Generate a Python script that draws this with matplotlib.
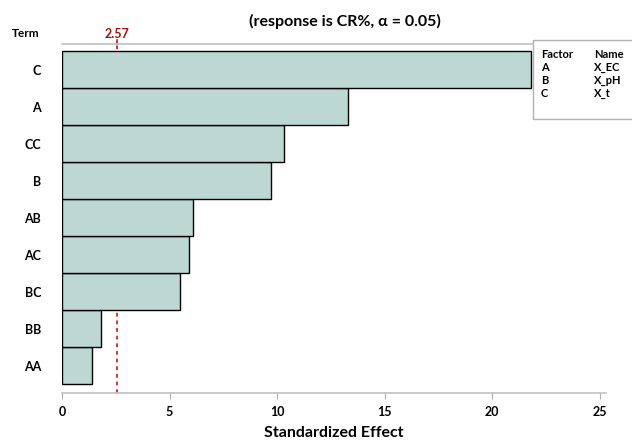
import matplotlib
matplotlib.use('Agg')
import matplotlib.pyplot as plt
from matplotlib.patches import Rectangle

plt.rcParams['font.family'] = ['Lato', 'DejaVu Sans']

terms = ['AA', 'BB', 'BC', 'AC', 'AB', 'B', 'CC', 'A', 'C']
effects = [1.4, 1.8, 5.5, 5.9, 6.1, 9.7, 10.3, 13.3, 21.8]
alpha_line = 2.57
factors = ['A', 'B', 'C']
names = ['X_EC', 'X_pH', 'X_t']

fig = plt.figure(figsize=(6.32, 4.47), dpi=100)
ax = fig.add_axes([0.0981, 0.1208, 0.861, 0.7808])

ypos = list(range(len(terms)))
ax.barh(ypos, effects, height=1.0, color='#bdd8d3', edgecolor='black', linewidth=1.0, zorder=3)
# reference line sits behind the bars
ax.axvline(alpha_line, color='#c80000', linestyle=(0, (2.5, 2.5)), linewidth=1.1, zorder=1)

ax.set_xlim(0, 25.3)
ax.set_ylim(-0.74, 8.69)
ax.set_xticks([0, 5, 10, 15, 20, 25])
ax.set_yticks(ypos)
ax.set_yticklabels(terms, fontweight='bold', fontsize=9)
for lab in ax.get_xticklabels():
    lab.set_fontweight('bold')
    lab.set_fontsize(9)
ax.tick_params(axis='y', length=0, pad=15)
ax.tick_params(axis='x', length=4, color='#b0b0b0', pad=5)

for s in ['left', 'right']:
    ax.spines[s].set_visible(False)
for s in ['top', 'bottom']:
    ax.spines[s].set_color('#c0c0c0')
    ax.spines[s].set_linewidth(1.2)

ax.set_xlabel('Standardized Effect', fontsize=11.5, fontweight='bold', labelpad=6)
ax.text(alpha_line, 1.012, '%.2f' % alpha_line, transform=ax.get_xaxis_transform(),
        ha='center', va='bottom', color='#a01010', fontsize=9, fontweight='bold')
ax.plot([alpha_line, alpha_line], [1.0, 1.012], transform=ax.get_xaxis_transform(),
        color='#c80000', linewidth=1.1, clip_on=False)

fig.text(0.546, 0.953, '(response is CR%, α = 0.05)', ha='center', va='center',
         fontsize=11.5, fontweight='bold')
fig.text(0.040, 0.926, 'Term', ha='center', va='center', fontsize=8.5, fontweight='bold')

# factor legend box
box = Rectangle((533 / 632, 1 - 119 / 447), 100 / 632, 79 / 447, transform=fig.transFigure,
                facecolor='white', edgecolor='#b0b0b0', linewidth=1.0, zorder=5)
fig.patches.append(box)
rows = [('Factor', 'Name')] + list(zip(factors, names))
for i, (f, n) in enumerate(rows):
    y = 1 - (54 + i * 13.2) / 447
    fig.text(541 / 632, y, f, ha='left', va='center', fontsize=8, fontweight='bold', zorder=6)
    fig.text(594 / 632, y, n, ha='left', va='center', fontsize=8, fontweight='bold', zorder=6)

fig.savefig('out.png', dpi=100)
